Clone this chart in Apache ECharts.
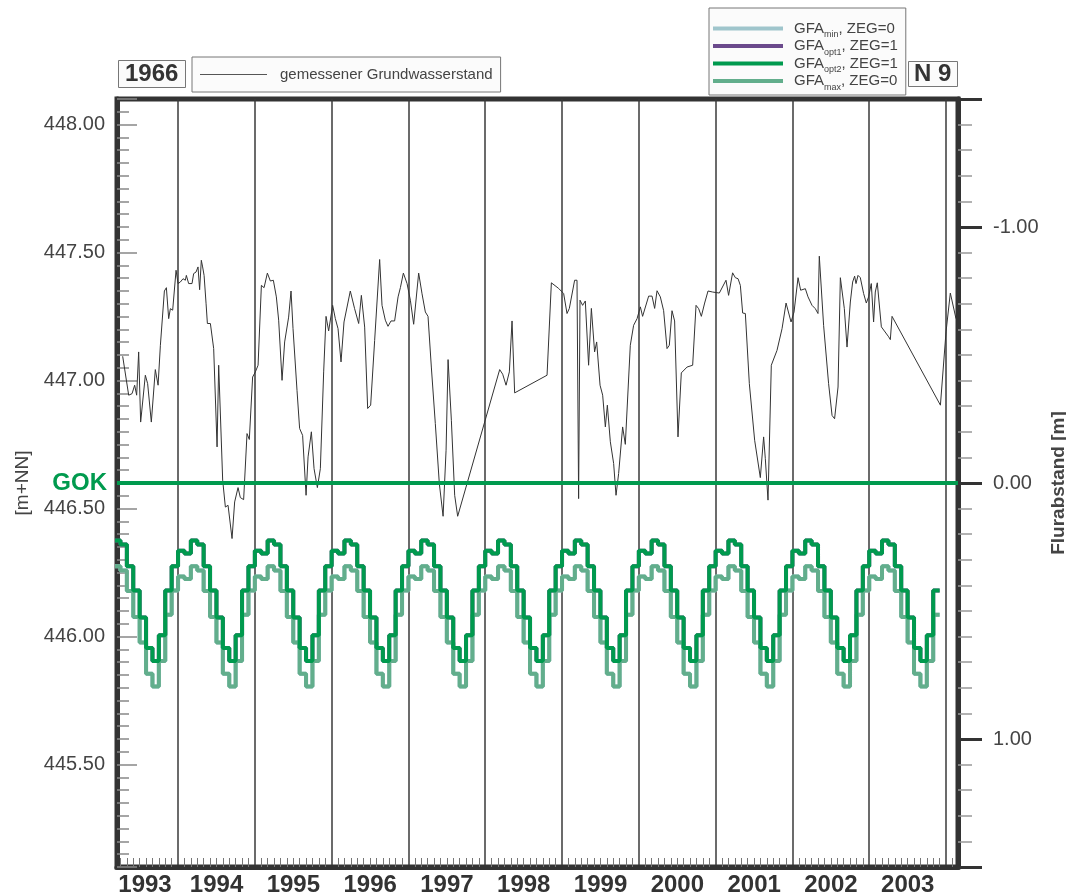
<!DOCTYPE html>
<html>
<head>
<meta charset="utf-8">
<title>N 9 - Grundwasserstand</title>
<script src="https://cdn.jsdelivr.net/npm/echarts@6/dist/echarts.min.js"></script>
<style>
  html, body { margin: 0; padding: 0; background: #fff; }
  #chart { width: 1066px; height: 896px; }
</style>
</head>
<body>
<div id="chart"></div>
<script>
const font = '"Liberation Sans", Arial, sans-serif'

// gemessener Grundwasserstand: Zeitpunkt (Dezimaljahr) und Wert [m+NN]
const measuredYears = [
  1993.279, 1993.357, 1993.401, 1993.435, 1993.461, 1993.487, 1993.513, 1993.574, 1993.604, 1993.652,
  1993.704, 1993.740, 1993.770, 1993.822, 1993.848, 1993.878, 1993.900, 1993.930, 1993.974, 1994.000,
  1994.030, 1994.065, 1994.095, 1994.108, 1994.138, 1994.182, 1994.203, 1994.234, 1994.260, 1994.281,
  1994.303, 1994.320, 1994.339, 1994.365, 1994.382, 1994.421, 1994.464, 1994.477, 1994.508, 1994.529,
  1994.581, 1994.616, 1994.651, 1994.703, 1994.737, 1994.781, 1994.811, 1994.854, 1994.898, 1994.928,
  1994.971, 1995.007, 1995.042, 1995.085, 1995.120, 1995.163, 1995.202, 1995.241, 1995.280, 1995.310,
  1995.354, 1995.388, 1995.440, 1995.471, 1995.497, 1995.549, 1995.583, 1995.622, 1995.667, 1995.693,
  1995.736, 1995.771, 1995.814, 1995.853, 1995.896, 1995.927, 1995.961, 1996.013, 1996.048, 1996.083,
  1996.122, 1996.161, 1996.243, 1996.299, 1996.352, 1996.387, 1996.430, 1996.469, 1996.508, 1996.560,
  1996.625, 1996.656, 1996.699, 1996.734, 1996.773, 1996.820, 1996.865, 1996.895, 1996.934, 1996.982,
  1997.025, 1997.068, 1997.133, 1997.177, 1997.220, 1997.255, 1997.298, 1997.350, 1997.402, 1997.451,
  1997.490, 1997.516, 1997.559, 1997.602, 1997.641, 1998.188, 1998.227, 1998.271, 1998.314, 1998.349,
  1998.383, 1998.805, 1998.861, 1998.956, 1999.021, 1999.065, 1999.095, 1999.164, 1999.195, 1999.216,
  1999.234, 1999.268, 1999.303, 1999.346, 1999.382, 1999.424, 1999.451, 1999.495, 1999.529, 1999.564,
  1999.590, 1999.629, 1999.672, 1999.703, 1999.737, 1999.789, 1999.824, 1999.889, 1999.932, 1999.977,
  2000.020, 2000.049, 2000.128, 2000.172, 2000.206, 2000.237, 2000.280, 2000.323, 2000.367, 2000.397,
  2000.432, 2000.466, 2000.510, 2000.553, 2000.628, 2000.701, 2000.745, 2000.779, 2000.814, 2000.857,
  2000.901, 2000.961, 2001.048, 2001.135, 2001.169, 2001.221, 2001.257, 2001.292, 2001.322, 2001.352,
  2001.387, 2001.439, 2001.508, 2001.582, 2001.625, 2001.647, 2001.682, 2001.725, 2001.799, 2001.865,
  2001.917, 2001.982, 2002.021, 2002.073, 2002.107, 2002.168, 2002.203, 2002.255, 2002.298, 2002.333,
  2002.350, 2002.406, 2002.471, 2002.516, 2002.549, 2002.594, 2002.624, 2002.676, 2002.711, 2002.754,
  2002.784, 2002.810, 2002.828, 2002.854, 2002.884, 2002.927, 2002.962, 2002.992, 2003.027, 2003.057,
  2003.079, 2003.105, 2003.158, 2003.253, 2003.275, 2003.297, 2003.927, 2004.000, 2004.056, 2004.130
]
const measuredLevels = [
  447.095, 446.943, 446.949, 446.982, 446.943, 447.112, 446.838, 447.021, 446.988, 446.838,
  447.043, 446.982, 447.138, 447.350, 447.363, 447.242, 447.281, 447.275, 447.431, 447.379,
  447.385, 447.398, 447.392, 447.411, 447.379, 447.379, 447.418, 447.424, 447.444, 447.355,
  447.470, 447.444, 447.411, 447.300, 447.223, 447.223, 447.125, 447.118, 446.741, 447.060,
  446.611, 446.506, 446.513, 446.383, 446.526, 446.582, 446.543, 446.535, 446.793, 446.770,
  447.014, 447.034, 447.060, 447.372, 447.363, 447.420, 447.389, 447.392, 447.327, 447.236,
  447.001, 447.151, 447.248, 447.350, 447.203, 446.962, 446.813, 446.786, 446.552, 446.702,
  446.800, 446.656, 446.582, 446.656, 447.034, 447.251, 447.194, 447.294, 447.242, 447.203,
  447.073, 447.229, 447.350, 447.281, 447.223, 447.333, 447.209, 446.891, 446.904, 447.157,
  447.473, 447.294, 447.236, 447.212, 447.233, 447.233, 447.327, 447.363, 447.420, 447.379,
  447.314, 447.220, 447.420, 447.339, 447.268, 447.251, 447.053, 446.832, 446.598, 446.470,
  446.728, 447.082, 446.845, 446.552, 446.470, 447.043, 447.025, 446.982, 447.034, 447.233,
  446.952, 447.021, 447.382, 447.360, 447.340, 447.262, 447.282, 447.392, 447.392, 446.539,
  447.314, 447.294, 447.311, 447.060, 447.282, 447.112, 447.151, 446.982, 446.943, 446.819,
  446.904, 446.761, 446.676, 446.552, 446.637, 446.819, 446.751, 447.138, 447.216, 447.242,
  447.288, 447.251, 447.330, 447.330, 447.282, 447.351, 447.327, 447.273, 447.125, 447.138,
  447.273, 447.233, 446.780, 447.030, 447.053, 447.060, 447.294, 447.281, 447.251, 447.303,
  447.350, 447.346, 447.342, 447.392, 447.333, 447.421, 447.402, 447.398, 447.372, 447.264,
  447.262, 446.988, 446.767, 446.621, 446.780, 446.695, 446.533, 447.060, 447.118, 447.203,
  447.303, 447.229, 447.268, 447.402, 447.353, 447.359, 447.327, 447.294, 447.281, 447.262,
  447.486, 447.216, 446.988, 446.864, 446.851, 446.975, 447.402, 447.281, 447.131, 447.307,
  447.385, 447.408, 447.379, 447.411, 447.402, 447.340, 447.303, 447.327, 447.379, 447.229,
  447.346, 447.382, 447.210, 447.171, 447.160, 447.251, 446.904, 447.190, 447.342, 447.242
]

// GFA-Ganglinien, Monatswerte Jan..Dez (jedes Jahr gleich)
const gfaOpt2Monthly = [446.335, 446.325, 446.375, 446.36, 446.275, 446.18, 446.075, 445.955, 445.905, 446.005, 446.18, 446.275]
const gfaMaxMonthly = [446.235, 446.225, 446.275, 446.258, 446.178, 446.077, 445.977, 445.855, 445.805, 445.905, 446.085, 446.18]
const gfaFirst = [1993, 3]
const gfaLast = [2003, 11]

const gfaNames = ['GFAmin', 'GFAopt1', 'GFAopt2', 'GFAmax']
const gfaSubs = ['min', 'opt1', 'opt2', 'max']
const gfaZeg = [0, 1, 1, 0]

const gokLevel = 446.6
const xMin = 1993.205
const xMax = 2004.156
const lastYearLabel = 2003
const levelMin = 445.1
const levelMax = 448.1
const depthMin = -1.5
const depthMax = 1.5

const monthlySteps = (monthly) => {
  const out = []
  for (let y = gfaFirst[0]; y <= gfaLast[0]; y++) {
    for (let m = 1; m <= 12; m++) {
      if (y === gfaFirst[0] && m < gfaFirst[1]) continue
      if (y === gfaLast[0] && m > gfaLast[1]) continue
      out.push([y + (m - 1) / 12, monthly[m - 1]])
    }
  }
  // letzten Monat bis zum Monatsende halten
  out.push([gfaLast[0] + gfaLast[1] / 12, monthly[gfaLast[1] - 1]])
  return out
}
const opt2Data = monthlySteps(gfaOpt2Monthly)
const maxData = monthlySteps(gfaMaxMonthly)
const measuredData = measuredYears.map((t, i) => [t, measuredLevels[i]])

const gfaLabel = {}
gfaNames.forEach((n, i) => {
  gfaLabel[n] = '{a|GFA}{s|' + gfaSubs[i] + '}{a|, ZEG=' + gfaZeg[i] + '}'
})

const stepSeries = (name, data, color) => ({
  name,
  type: 'line',
  step: 'end',
  data,
  symbol: 'none',
  lineStyle: { color, width: 4 },
  itemStyle: { color },
})

const myChart = echarts.init(document.getElementById('chart'))
myChart.setOption({
  animation: false,
  title: [
    {
      text: '1966', left: 118, top: 60, padding: [2, 7],
      borderColor: '#777', borderWidth: 1, backgroundColor: '#fbfbfb',
      textStyle: { fontFamily: font, fontSize: 24, fontWeight: 'bold', color: '#333', lineHeight: 24 },
    },
    {
      text: 'N 9', left: 908, top: 61, padding: [1, 6],
      borderColor: '#777', borderWidth: 1, backgroundColor: '#fbfbfb',
      textStyle: { fontFamily: font, fontSize: 24, fontWeight: 'bold', color: '#333', lineHeight: 24 },
    },
  ],
  legend: [
    {
      data: ['gemessener Grundwasserstand'],
      left: 192, top: 57, padding: [10, 8, 10, 8],
      icon: 'rect', itemWidth: 67, itemHeight: 1,
      backgroundColor: '#fbfbfb', borderColor: '#777', borderWidth: 1,
      selectedMode: false,
      itemStyle: { color: '#555' },
      textStyle: { fontFamily: font, fontSize: 15, color: '#444', padding: [0, 0, 0, 8], lineHeight: 15 },
    },
    {
      data: gfaNames,
      orient: 'vertical',
      left: 709, top: 8, padding: [13, 8, 3, 4],
      icon: 'rect', itemWidth: 70, itemHeight: 4, itemGap: -1,
      backgroundColor: '#fbfbfb', borderColor: '#777', borderWidth: 1,
      selectedMode: false,
      formatter: (name) => gfaLabel[name],
      textStyle: {
        padding: [0, 0, 0, 6],
        rich: {
          a: { fontFamily: font, fontSize: 15, color: '#444', lineHeight: 16 },
          s: { fontFamily: font, fontSize: 9, color: '#444', verticalAlign: 'bottom', lineHeight: 10, padding: [0, 0, -3, 0] },
        },
      },
    },
  ],
  grid: {
    left: 117, right: 108, top: 99, bottom: 29,
    show: true, borderColor: '#333', borderWidth: 5,
    outerBoundsMode: 'none',
  },
  xAxis: {
    type: 'value',
    min: xMin, max: xMax,
    splitNumber: 11, minInterval: 1, maxInterval: 1,
    axisLine: { onZero: false, lineStyle: { color: '#333', width: 5 } },
    axisTick: { show: false, inside: true },
    minorTick: { show: true, splitNumber: 12, length: 9, lineStyle: { color: '#777', width: 1 } },
    splitLine: { show: true, lineStyle: { color: '#3a3a3a', width: 1.5 } },
    minorSplitLine: { show: false },
    axisLabel: {
      showMinLabel: true, showMaxLabel: false,
      margin: 6,
      formatter(val) {
        if (Math.abs(val - xMin) < 1e-6) return '{first|' + Math.floor(val) + '}'
        const year = Math.round(val)
        if (Math.abs(val - year) > 1e-6 || year > lastYearLabel) return ''
        return '{year|' + year + '}'
      },
      rich: {
        year: { fontFamily: font, fontSize: 24, fontWeight: 'bold', color: '#333', padding: [0, 0, 0, 77] },
        first: { fontFamily: font, fontSize: 24, fontWeight: 'bold', color: '#333', padding: [0, 0, 0, 56] },
      },
    },
  },
  yAxis: [
    {
      type: 'value',
      position: 'left',
      min: levelMin, max: levelMax,
      splitNumber: 6, minInterval: 0.5, maxInterval: 0.5,
      name: '[m+NN]', nameLocation: 'middle', nameGap: 85,
      nameTextStyle: { fontFamily: font, fontSize: 19, color: '#444' },
      axisLine: { show: true, onZero: false, lineStyle: { color: '#333', width: 5 } },
      axisTick: { show: true, inside: true, length: 20, lineStyle: { color: '#888', width: 1.5 } },
      minorTick: { show: true, splitNumber: 10, length: 12, lineStyle: { color: '#888', width: 1.5 } },
      splitLine: { show: false },
      axisLabel: {
        showMinLabel: false, showMaxLabel: false,
        margin: 12, fontFamily: font, fontSize: 20, color: '#444',
        formatter: (v) => v.toFixed(2),
      },
    },
    {
      type: 'value',
      position: 'right',
      inverse: true,
      min: depthMin, max: depthMax,
      splitNumber: 3, minInterval: 1, maxInterval: 1,
      name: 'Flurabstand [m]', nameLocation: 'middle', nameGap: 88, nameRotate: 90,
      nameTextStyle: { fontFamily: font, fontSize: 19, fontWeight: 'bold', color: '#444' },
      axisLine: { show: true, onZero: false, lineStyle: { color: '#333', width: 5 } },
      axisTick: { show: true, length: 24, lineStyle: { color: '#333', width: 3 } },
      minorTick: { show: true, splitNumber: 10, length: 14, lineStyle: { color: '#999', width: 1.5 } },
      splitLine: { show: false },
      axisLabel: {
        showMinLabel: false, showMaxLabel: false,
        margin: 35, fontFamily: font, fontSize: 20, color: '#444',
        formatter: (v) => v.toFixed(2),
      },
    },
  ],
  series: [
    {
      name: 'gemessener Grundwasserstand',
      type: 'line',
      data: measuredData,
      symbol: 'none',
      lineStyle: { color: '#333', width: 1 },
      itemStyle: { color: '#333' },
    },
    stepSeries('GFAmin', maxData, '#9fc5cc'),
    stepSeries('GFAopt1', opt2Data, '#6b4a8c'),
    stepSeries('GFAmax', maxData, '#62ae8c'),
    Object.assign(stepSeries('GFAopt2', opt2Data, '#009a4e'), {
      markLine: {
        silent: true,
        symbol: ['none', 'none'],
        data: [{ yAxis: gokLevel }],
        lineStyle: { color: '#009a4e', width: 4, type: 'solid' },
        label: {
          position: 'start', distance: 10, formatter: 'GOK',
          fontFamily: font, fontSize: 24, fontWeight: 'bold', color: '#009a4e',
        },
      },
    }),
  ],
})
</script>
</body>
</html>
